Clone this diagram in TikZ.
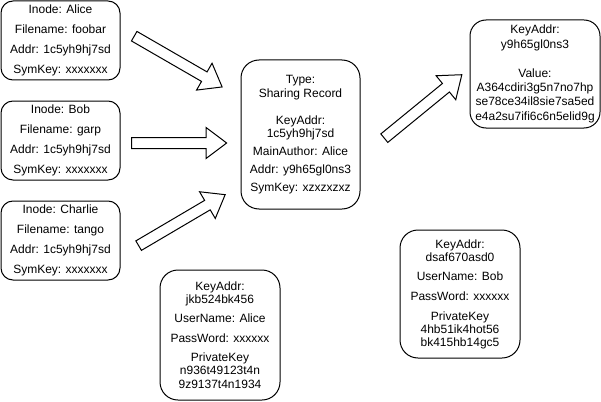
\documentclass[tikz,border=0pt]{standalone}
\usepackage{fontspec}
\setmainfont{Liberation Sans}
\usetikzlibrary{shapes.arrows}
\begin{document}
\begin{tikzpicture}[x=1pt,y=-1pt,
  rec/.style={draw=black, line width=1pt, rounded corners=#1, align=center,
    inner sep=0pt, font=\fontsize{12}{13.5}\selectfont},
  rec/.default=18pt,
  blockarrow/.style={single arrow, draw=black, fill=white, line width=1pt,
    inner xsep=0pt, inner ysep=5pt, minimum width=30pt,
    single arrow head extend=10pt, single arrow tip angle=74,
    single arrow head indent=0pt}]
\useasboundingbox (0,0) rectangle (601,401);

\node[rec=12pt, minimum width=119pt, minimum height=79pt] (alice) at (60.5,40.5)
  {Inode: Alice\\[6.5pt]Filename: foobar\\[6.5pt]Addr: 1c5yh9hj7sd\\[6.5pt]SymKey: xxxxxxx};
\node[rec=12pt, minimum width=119pt, minimum height=79pt] (bob) at (60.5,140.5)
  {Inode: Bob\\[6.5pt]Filename: garp\\[6.5pt]Addr: 1c5yh9hj7sd\\[6.5pt]SymKey: xxxxxxx};
\node[rec=12pt, minimum width=119pt, minimum height=79pt] (charlie) at (60.5,240.5)
  {Inode: Charlie\\[6.5pt]Filename: tango\\[6.5pt]Addr: 1c5yh9hj7sd\\[6.5pt]SymKey: xxxxxxx};

\node[rec, minimum width=119pt, minimum height=149pt] (share) at (300.5,134.5)
  {Type:\\Sharing Record\\[13.5pt]KeyAddr:\\1c5yh9hj7sd\\[4pt]MainAuthor: Alice\\[4.5pt]Addr: y9h65gl0ns3\\[4.5pt]SymKey: xzxzxzxz};

\node[rec=16pt, minimum width=130pt, minimum height=108pt,
  font=\fontsize{12}{14.4}\selectfont] (value) at (535,74)
  {KeyAddr:\\y9h65gl0ns3\\[14.4pt]Value:\\A364cdiri3g5n7no7hp\\se78ce34il8sie7sa5ed\\e4a2su7ifi6c6n5elid9g};

\node[rec, minimum width=120pt, minimum height=130pt,
  font=\fontsize{12}{13.3}\selectfont] (alicekey) at (220,335)
  {KeyAddr:\\jkb524bk456\\[6pt]UserName: Alice\\[6pt]PassWord: xxxxxx\\[6pt]PrivateKey\\n936t49123t4n\\9z9137t4n1934};

\node[rec, minimum width=120pt, minimum height=128pt,
  font=\fontsize{12}{12.8}\selectfont] (bobkey) at (460,294)
  {KeyAddr:\\dsaf670asd0\\[7pt]UserName: Bob\\[7pt]PassWord: xxxxxx\\[7pt]PrivateKey\\4hb51ik4hot56\\bk415hb14gc5};

\node[blockarrow, minimum height=101.5pt, rotate=-30] (a1) at (175,59.75) {};
\node[blockarrow, minimum height=95pt] (a2) at (175.5,143) {};
\node[blockarrow, minimum height=100.4pt, rotate=30.5] (a3) at (178.75,222) {};
\node[blockarrow, minimum height=100.2pt, rotate=39.3] (a4) at (420.25,108.75) {};
\end{tikzpicture}
\end{document}
